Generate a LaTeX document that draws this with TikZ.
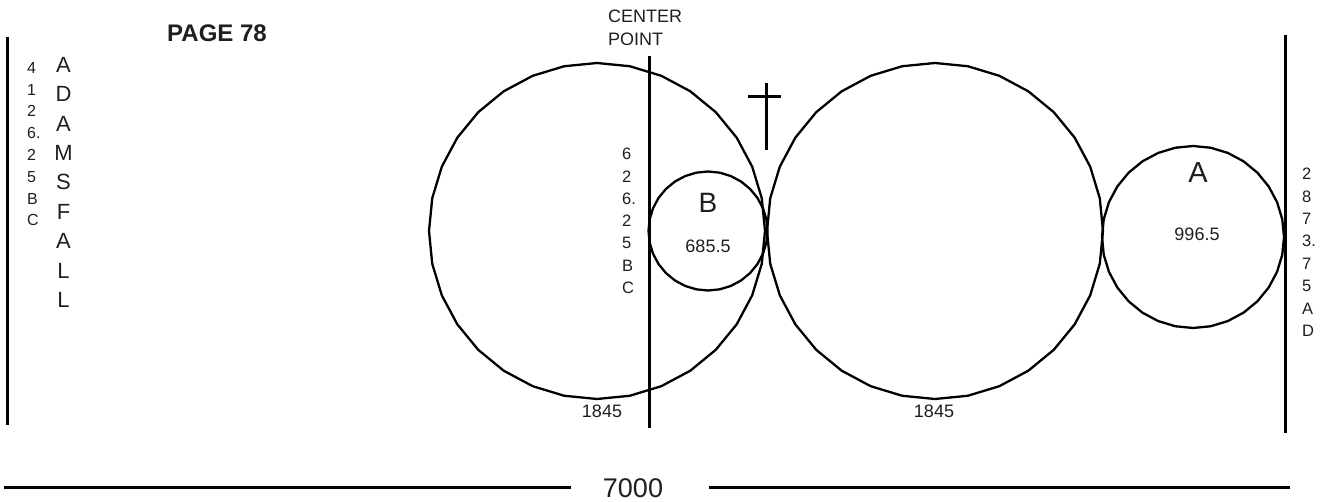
\documentclass[tikz,border=0pt]{standalone}
\usepackage{fontspec}
\setmainfont{Liberation Sans}
\begin{document}
\begin{tikzpicture}[x=1pt,y=-1pt,
  txt/.style={inner sep=0pt,text=black!88},
  col/.style={txt,align=left,anchor=north west,font=\fontsize{16pt}{21.8pt}\selectfont},
  ring/.style={line width=2.3pt,line join=round},
  bar/.style={line width=3pt}]
\useasboundingbox[fill=white] (0,0) rectangle (1320,502);
% faceted circles
\foreach \cx/\cy/\r in {597/231/168, 935/231/168, 708/231/59.5, 1193/237/91}{
  \draw[ring] plot[samples=33,domain=0:360,variable=\t] ({\cx+\r*cos(\t+90)},{\cy+\r*sin(\t+90)}) -- cycle;
}
% vertical bars
\draw[bar] (7,37) -- (7,425);
\draw[bar] (649,56) -- (649,428);
\draw[bar] (1285,35) -- (1285,433);
% cross
\draw[bar] (766,83) -- (766,150);
\draw[bar] (748,97) -- (781,97);
% texts
\node[txt,anchor=north west,font=\fontsize{24pt}{28pt}\selectfont\bfseries] (page) at (167,25) {PAGE 78};
\node[txt,anchor=north west,align=left,font=\fontsize{18pt}{22.5pt}\selectfont] (cp) at (608,10) {CENTER\\POINT};
\node[col] (lcol) at (27,62) {4\\1\\2\\6.\\2\\5\\B\\C};
\node[txt,anchor=north,align=center,font=\fontsize{22pt}{29.4pt}\selectfont] (adam) at (63.5,57) {A\\D\\A\\M\\S\\F\\A\\L\\L};
\node[col,font=\fontsize{16.5pt}{22.3pt}\selectfont] (mcol) at (622,148) {6\\2\\6.\\2\\5\\B\\C};
\node[col,font=\fontsize{16.5pt}{22.4pt}\selectfont] (rcol) at (1302,168) {2\\8\\7\\3.\\7\\5\\A\\D};
\node[txt,font=\fontsize{28pt}{32pt}\selectfont] (lb) at (708,203) {B};
\node[txt,font=\fontsize{18pt}{22pt}\selectfont] (vb) at (708,246) {685.5};
\node[txt,font=\fontsize{29pt}{32pt}\selectfont] (la) at (1198,172.5) {A};
\node[txt,font=\fontsize{18pt}{22pt}\selectfont] (vb2) at (1197,234) {996.5};
\node[txt,font=\fontsize{18pt}{22pt}\selectfont] (d1) at (602,411.5) {1845};
\node[txt,font=\fontsize{18pt}{22pt}\selectfont] (d2) at (934,411.5) {1845};
\node[txt,font=\fontsize{27pt}{30pt}\selectfont] (tot) at (633,488) {7000};
% bottom dimension line
\coordinate (bl) at (4,487);
\coordinate (blend) at (571,487);
\coordinate (brstart) at (709,487);
\coordinate (br) at (1290,487);
\draw[bar] (bl) -- (blend);
\draw[bar] (brstart) -- (br);
\end{tikzpicture}
\end{document}
